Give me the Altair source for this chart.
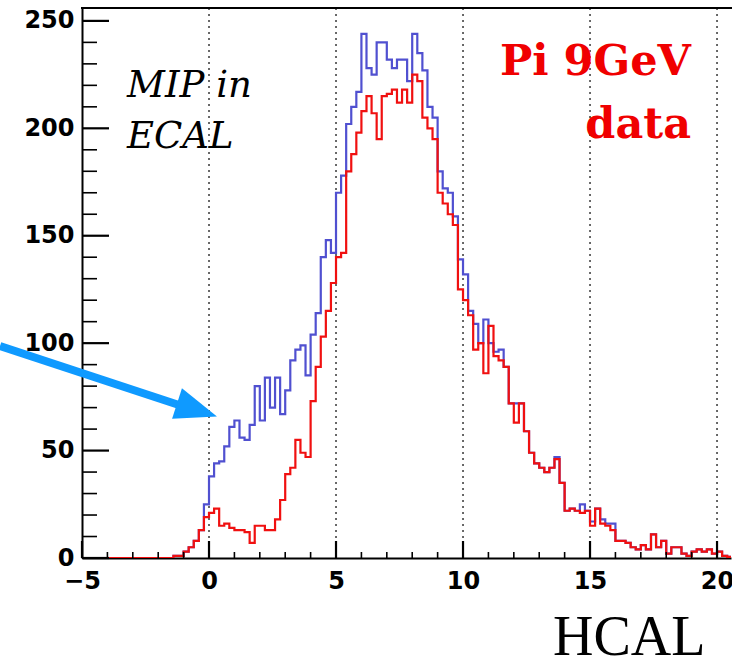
import altair as alt
import pandas as pd
import numpy as np

# ---------------- data ----------------
BIN_LOW = -1.4      # low edge of first non-empty bin
BIN_WIDTH = 0.2

red_counts = [
    1, 1, 3, 5, 8, 13, 19,                       # -1.4 .. -0.2
    21, 23, 15, 16, 14, 13, 13, 12, 7, 15,       # 0.0 .. 1.8
    15, 13, 13, 18, 27, 39, 42, 55, 49, 47,      # 2.0 .. 3.8
    73, 89, 103, 115, 128, 140, 142, 180, 188, 198,   # 4.0 .. 5.8
    208, 215, 207, 195, 215, 216, 218, 212, 218, 212, # 6.0 .. 7.8
    225, 222, 205, 200, 195, 170, 165, 160, 155, 125, # 8.0 .. 9.8
    120, 113, 97, 100, 86, 108, 94, 92, 89, 72,       # 10.0 .. 11.8
    63, 72, 59, 49, 44, 42, 40, 42, 46, 35,           # 12.0 .. 13.8
    22, 23, 22, 21, 22, 15, 23, 16, 15, 13,           # 14.0 .. 15.8
    8, 8, 7, 5, 4, 6, 4, 11, 5, 8,                    # 16.0 .. 17.8
    2, 5, 5, 2, 1, 3, 4, 3, 4, 2,                     # 18.0 .. 19.8
    3, 1, 0.5,                                        # 20.0 .. 20.4
]

blue_counts = [
    1, 1, 3, 5, 8, 13, 25,                       # -1.4 .. -0.2
    38, 44, 45, 52, 61, 64, 56, 55, 62, 80,      # 0.0 .. 1.8
    64, 84, 70, 84, 67, 78, 92, 97, 99, 85,      # 2.0 .. 3.8
    104, 114, 140, 148, 142, 170, 178, 202, 210, 217, # 4.0 .. 5.8
    244, 228, 225, 240, 240, 232, 228, 232, 232, 222, # 6.0 .. 7.8
    244, 235, 227, 210, 205, 180, 172, 170, 159, 139, # 8.0 .. 9.8
    132, 115, 109, 100, 111, 100, 96, 97, 89, 72,     # 10.0 .. 11.8
    72, 72, 59, 49, 44, 42, 40, 42, 47, 35,           # 12.0 .. 13.8
    22, 23, 22, 25, 22, 17, 23, 18, 16, 16,           # 14.0 .. 15.8
    8, 8, 7, 5, 4, 6, 4, 11, 5, 8,                    # 16.0 .. 17.8
    2, 5, 5, 2, 1, 3, 4, 3, 4, 2,                     # 18.0 .. 19.8
    3, 1, 0.5,                                        # 20.0 .. 20.4
]

x_tick_values = [-5, 0, 5, 10, 15, 20]
y_tick_values = [0, 50, 100, 150, 200, 250]
grid_x = [0, 5, 10, 15, 20]
x_minor = [v for v in range(-5, 21) if v % 5 != 0]
y_minor = [v for v in range(0, 251, 10) if v % 50 != 0]

X_DOMAIN = [-5, 20.55]
Y_DOMAIN = [0, 256]
W, H = 649, 550
PAD_L, PAD_T = 82, 8
X_PER_PX = (X_DOMAIN[1] - X_DOMAIN[0]) / W
Y_PER_PX = (Y_DOMAIN[1] - Y_DOMAIN[0]) / H


def hist_frame(counts, name):
    lows = [round(BIN_LOW + BIN_WIDTH * i, 2) for i in range(len(counts))]
    xs = [X_DOMAIN[0]] + lows + [round(lows[-1] + BIN_WIDTH, 2)]
    ys = [0] + list(counts) + [counts[-1]]
    return pd.DataFrame({"x": xs, "y": ys, "series": name})


blue_df = hist_frame(blue_counts, "blue")
red_df = hist_frame(red_counts, "red")

xs = alt.Scale(domain=X_DOMAIN, nice=False, zero=False)
ys = alt.Scale(domain=Y_DOMAIN, nice=False, zero=True)

x_axis = alt.Axis(values=x_tick_values, ticks=False, grid=False, title=None,
                  labelFont="DejaVu Sans", labelFontWeight="bold", labelFontSize=24,
                  labelColor="black", labelPadding=11, labelFlush=False,
                  labelOverlap=False, domainColor="black", domainWidth=2)
y_axis = alt.Axis(values=y_tick_values, ticks=False, grid=False, title=None,
                  labelFont="DejaVu Sans", labelFontWeight="bold", labelFontSize=24,
                  labelColor="black", labelPadding=8, labelFlush=False,
                  labelOverlap=False, domainColor="black", domainWidth=2)

grid = alt.Chart(pd.DataFrame({"g": grid_x})).mark_rule(
    color="#444444", strokeDash=[2, 4], strokeWidth=1.6
).encode(x=alt.X("g:Q", scale=xs, axis=x_axis), y=alt.value(0), y2=alt.value(H))

blue_line = alt.Chart(blue_df).mark_line(
    interpolate="step-after", color="#5050d0", strokeWidth=2.2, clip=True
).encode(x=alt.X("x:Q", scale=xs), y=alt.Y("y:Q", scale=ys, axis=y_axis))

red_line = alt.Chart(red_df).mark_line(
    interpolate="step-after", color="#f01010", strokeWidth=2.2, clip=True
).encode(x=alt.X("x:Q", scale=xs), y=alt.Y("y:Q", scale=ys))


# inward (ROOT-style) ticks, drawn as rules in data space
def y_ticks(values, length_px, width):
    df = pd.DataFrame({"tv": values, "ta": X_DOMAIN[0],
                       "tb": X_DOMAIN[0] + length_px * X_PER_PX})
    return alt.Chart(df).mark_rule(color="black", strokeWidth=width).encode(
        y=alt.Y("tv:Q", scale=ys), x=alt.X("ta:Q", scale=xs), x2="tb:Q")


def x_ticks(values, length_px, width):
    df = pd.DataFrame({"sv": values, "sa": Y_DOMAIN[0],
                       "sb": Y_DOMAIN[0] + length_px * Y_PER_PX})
    return alt.Chart(df).mark_rule(color="black", strokeWidth=width).encode(
        x=alt.X("sv:Q", scale=xs), y=alt.Y("sa:Q", scale=ys), y2="sb:Q")


y_major_ticks = y_ticks(y_tick_values, 27, 2.2)
y_minor_ticks = y_ticks(y_minor, 15, 1.6)
x_major_ticks = x_ticks(x_tick_values, 17, 2.2)
x_minor_ticks = x_ticks(x_minor, 6, 1.6)

top_border = alt.Chart(pd.DataFrame({"a": [0]})).mark_rule(
    color="black", strokeWidth=2
).encode(x=alt.value(-1), x2=alt.value(W + 2), y=alt.value(0))

# annotation arrow
arrow_line = alt.Chart(pd.DataFrame({"a": [0]})).mark_rule(
    color="#0f9aff", strokeWidth=8, clip=False
).encode(x=alt.value(0 - PAD_L), y=alt.value(346 - PAD_T),
         x2=alt.value(182 - PAD_L), y2=alt.value(406 - PAD_T))
arrow_head = alt.Chart(pd.DataFrame({"a": [0]})).mark_point(
    shape="M1,0L-1,-0.76L-1,0.76Z", size=1764, filled=True, opacity=1,
    color="#0f9aff", angle=18, clip=False
).encode(x=alt.value(197 - PAD_L), y=alt.value(410 - PAD_T))


def label(text, x, y, **kw):
    return alt.Chart(pd.DataFrame({"t": [text]})).mark_text(
        baseline="alphabetic", clip=False, **kw
    ).encode(text="t:N", x=alt.value(x - PAD_L), y=alt.value(y - PAD_T))


mip1 = label("MIP in", 127, 97, align="left", font="DejaVu Serif", fontStyle="italic",
             fontSize=37, color="black")
mip2 = label("ECAL", 127, 148, align="left", font="DejaVu Serif", fontStyle="italic",
             fontSize=37, color="black")
pi1 = label("Pi 9GeV", 691, 75, align="right", font="DejaVu Serif", fontWeight="bold",
            fontSize=43, color="#f00000")
pi2 = label("data", 691, 138, align="right", font="DejaVu Serif", fontWeight="bold",
            fontSize=43, color="#f00000")
hcal = label("HCAL", 553, 655, align="left", font="Liberation Serif", fontSize=56,
             color="black")

chart = alt.layer(
    grid, blue_line, red_line,
    y_major_ticks, y_minor_ticks, x_major_ticks, x_minor_ticks, top_border,
    arrow_line, arrow_head, mip1, mip2, pi1, pi2, hcal,
).properties(
    width=W, height=H,
    autosize=alt.AutoSizeParams(type="none"),
    padding={"left": PAD_L, "top": PAD_T, "right": 1, "bottom": 665 - PAD_T - H},
    background="white",
).configure_view(stroke=None)

chart.save("out.html", embed_options={"renderer": "svg", "actions": False})
